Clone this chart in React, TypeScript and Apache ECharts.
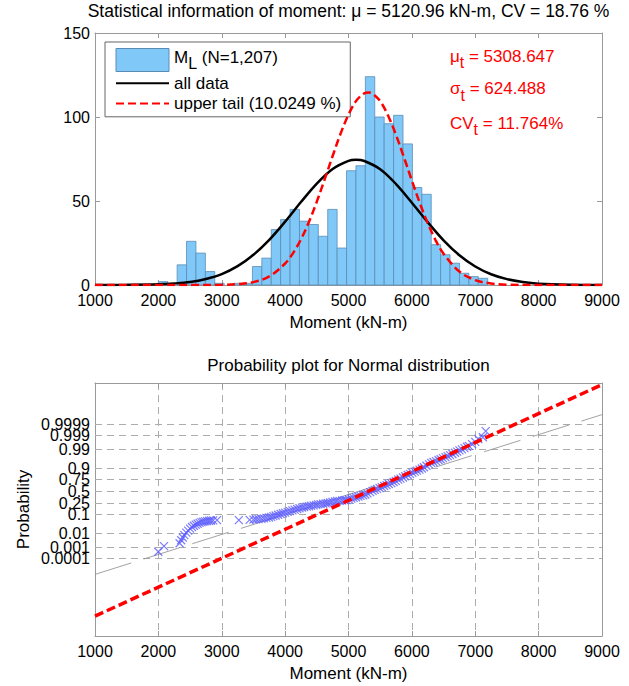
import React, { useEffect, useRef } from 'react';
import * as echarts from 'echarts';

const FONT = '"Liberation Sans", Arial, Helvetica, sans-serif';

// ---------- Histogram (top) ----------
const binEdges = [1999, 2147.5, 2296, 2444.5, 2593, 2741.5, 2890, 3038.5, 3187, 3335.5, 3484, 3632.5, 3781, 3929.5, 4078, 4226.5, 4375, 4523.5, 4672, 4820.5, 4969, 5117.5, 5266, 5414.5, 5563, 5711.5, 5860, 6008.5, 6157, 6305.5, 6454, 6602.5, 6751, 6899.5, 7048, 7196.5];
const binCounts = [2, 0, 12, 26, 19, 8, 1, 0, 1, 1, 11, 16, 33, 39, 45, 38, 36, 29, 45, 22, 68, 71, 124, 100, 96, 101, 84, 58, 54, 24, 18, 13, 7, 5, 4];

// fitted pdf curves, scaled to counts
const allDataCurve = [
  [1000, 0], [1500, 0.1], [2000, 0.4], [2250, 0.9], [2500, 1.8], [2750, 3.6], [3000, 6.5], [3250, 11.2],
  [3500, 18.0], [3750, 26.9], [4000, 37.7], [4250, 49.4], [4500, 60.4], [4750, 69.1], [5000, 73.9],
  [5120, 74.5], [5250, 73.8], [5500, 68.9], [5750, 60.1], [6000, 49.0], [6250, 37.4], [6500, 26.6],
  [6750, 17.7], [7000, 11.0], [7250, 6.4], [7500, 3.5], [7750, 1.8], [8000, 0.8], [8500, 0.15], [9000, 0],
];
const upperTailCurve = [
  [1000, 0], [2500, 0], [3000, 0.1], [3250, 0.5], [3500, 1.7], [3750, 5.1], [4000, 12.8], [4125, 19.0],
  [4250, 27.2], [4375, 37.5], [4500, 49.6], [4625, 63.0], [4750, 76.8], [4875, 90.1], [5000, 101.4],
  [5125, 109.8], [5250, 114.1], [5310, 114.6], [5375, 114.0], [5500, 109.4], [5625, 100.8], [5750, 89.3],
  [5875, 76.0], [6000, 62.1], [6125, 48.8], [6250, 36.8], [6375, 26.6], [6500, 18.6], [6750, 8.0],
  [7000, 2.9], [7250, 0.9], [7500, 0.2], [8000, 0], [9000, 0],
];

// ---------- Probability plot (bottom) ----------
const probTicks = [0.0001, 0.001, 0.01, 0.1, 0.25, 0.5, 0.75, 0.9, 0.99, 0.999, 0.9999];
const probTickLabels = ['0.0001', '0.001', '0.01', '0.1', '0.25', '0.5', '0.75', '0.9', '0.99', '0.999', '0.9999'];

// [moment, normal score]
const probPlotScores = [
  [1999, -3.34], [2089, -3.03],
  [2335, -2.87], [2360, -2.70], [2385, -2.55], [2410, -2.42], [2440, -2.28],
  [2470, -2.17], [2500, -2.06], [2530, -1.97], [2560, -1.90], [2590, -1.84],
  [2620, -1.79], [2650, -1.74], [2680, -1.70], [2710, -1.68], [2740, -1.66],
  [2770, -1.64], [2800, -1.62], [2830, -1.61], [2865, -1.60], [2925, -1.59],
  [3270, -1.585], [3440, -1.57],
  [3500, -1.56], [3540, -1.54], [3580, -1.53], [3625, -1.51],
  [3665, -1.49], [3705, -1.46], [3745, -1.44], [3780, -1.41],
  [3815, -1.37], [3850, -1.33], [3890, -1.29], [3929, -1.25],
  [3965, -1.21], [4000, -1.17], [4040, -1.13], [4078, -1.09],
  [4115, -1.05], [4150, -1.01], [4190, -0.97], [4226, -0.93],
  [4265, -0.90], [4300, -0.87], [4340, -0.84], [4375, -0.82],
  [4410, -0.79], [4450, -0.77], [4490, -0.74], [4523, -0.72],
  [4560, -0.70], [4600, -0.68], [4640, -0.66], [4672, -0.64],
  [4710, -0.61], [4745, -0.58], [4785, -0.56], [4820, -0.53],
  [4860, -0.52], [4900, -0.50], [4940, -0.49], [4969, -0.48],
  [5005, -0.44], [5045, -0.40], [5080, -0.36], [5117, -0.32],
  [5155, -0.28], [5190, -0.25], [5230, -0.21], [5266, -0.17],
  [5300, -0.11], [5340, -0.04], [5380, 0.03], [5414, 0.09],
  [5450, 0.14], [5490, 0.19], [5525, 0.24], [5563, 0.30],
  [5600, 0.35], [5635, 0.41], [5675, 0.46], [5711, 0.52],
  [5745, 0.58], [5785, 0.65], [5820, 0.71], [5860, 0.77],
  [5895, 0.84], [5935, 0.91], [5970, 0.97], [6008, 1.04],
  [6045, 1.10], [6080, 1.15], [6120, 1.21], [6157, 1.27],
  [6190, 1.34], [6230, 1.42], [6270, 1.50], [6305, 1.58],
  [6340, 1.63], [6380, 1.68], [6420, 1.74], [6454, 1.78],
  [6490, 1.84], [6530, 1.90], [6565, 1.95], [6602, 2.01],
  [6640, 2.07], [6680, 2.14], [6715, 2.20], [6751, 2.27],
  [6790, 2.33], [6830, 2.40], [6870, 2.47], [6899, 2.52],
  [6950, 2.62], [7000, 2.74], [7048, 2.90],
  [7120, 3.00], [7165, 3.34],
];
const allDataRefLine = [[1000, -4.59], [9000, 4.25]];
const upperTailFitLine = [[1000, -6.90], [9000, 5.91]];

// inverse standard normal CDF (probability axis transform)
function norminv(p: number): number {
  const a = [-3.969683028665376e1, 2.209460984245205e2, -2.759285104469687e2, 1.38357751867269e2, -3.066479806614716e1, 2.506628277459239];
  const b = [-5.447609879822406e1, 1.615858368580409e2, -1.556989798598866e2, 6.680131188771972e1, -1.328068155288572e1];
  const c = [-7.784894002430293e-3, -3.223964580411365e-1, -2.400758277161838, -2.549732539343734, 4.374664141464968, 2.938163982698783];
  const d = [7.784695709041462e-3, 3.224671290700398e-1, 2.445134137142996, 3.754408661907416];
  const pl = 0.02425;
  if (p < pl) {
    const q = Math.sqrt(-2 * Math.log(p));
    return (((((c[0] * q + c[1]) * q + c[2]) * q + c[3]) * q + c[4]) * q + c[5]) / ((((d[0] * q + d[1]) * q + d[2]) * q + d[3]) * q + 1);
  }
  if (p <= 1 - pl) {
    const q = p - 0.5;
    const r = q * q;
    return ((((((a[0] * r + a[1]) * r + a[2]) * r + a[3]) * r + a[4]) * r + a[5]) * q) / (((((b[0] * r + b[1]) * r + b[2]) * r + b[3]) * r + b[4]) * r + 1);
  }
  const q = Math.sqrt(-2 * Math.log(1 - p));
  return -(((((c[0] * q + c[1]) * q + c[2]) * q + c[3]) * q + c[4]) * q + c[5]) / ((((d[0] * q + d[1]) * q + d[2]) * q + d[3]) * q + 1);
}

const AXIS_GREY = '#9a9a9a';
const GRID_GREY = '#acacac';
const BAR_FILL = '#80c8f8';
const BAR_EDGE = '#5a8db5';

function buildOption() {
  const histData = binCounts.map((n, i) => [binEdges[i], binEdges[i + 1], n]);

  const tickLabel = { fontSize: 16, color: '#000', fontFamily: FONT };
  const axisLineStyle = { lineStyle: { color: AXIS_GREY, width: 1 } };

  const mainX = (gridIndex: number, extra: any = {}) => ({
    type: 'value', gridIndex, min: 1000, max: 9000, interval: 1000,
    axisLine: { show: true, onZero: false, ...axisLineStyle },
    axisTick: { show: true, inside: true, length: 5, lineStyle: { color: AXIS_GREY } },
    axisLabel: { ...tickLabel, margin: 7, showMinLabel: true, showMaxLabel: true, formatter: (v: number) => String(v) },
    splitLine: { show: false },
    name: 'Moment (kN-m)', nameLocation: 'middle', nameGap: 29,
    nameTextStyle: { fontSize: 17, color: '#000', fontFamily: FONT },
    ...extra,
  });
  const topX = (gridIndex: number) => ({
    type: 'value', gridIndex, position: 'top', min: 1000, max: 9000, interval: 1000,
    axisLine: { show: true, onZero: false, ...axisLineStyle },
    axisTick: { show: true, inside: true, length: 5, lineStyle: { color: AXIS_GREY } },
    axisLabel: { show: false }, splitLine: { show: false },
  });

  const rich = {
    m: { fontSize: 17, fill: '#ff0000', fontFamily: FONT, verticalAlign: 'top' },
    s: { fontSize: 16, fill: '#ff0000', fontFamily: FONT, verticalAlign: 'top', padding: [7, 0, 0, 0] },
  };
  const annot = (text: string, y: number) => ({
    type: 'text', x: 450, y,
    style: { text, rich, font: `17px ${FONT}`, fill: '#ff0000', verticalAlign: 'top' },
    silent: true,
  });

  return {
    animation: false,
    textStyle: { fontFamily: FONT },
    title: [
      {
        text: 'Statistical information of moment: \u03bc = 5120.96 kN-m, CV = 18.76 %',
        left: 348.5, top: 2, textAlign: 'center', padding: 0,
        textStyle: { fontSize: 17.5, fontWeight: 'normal', color: '#000', fontFamily: FONT },
      },
      {
        text: 'Probability plot for Normal distribution',
        left: 348.5, top: 357, textAlign: 'center', padding: 0,
        textStyle: { fontSize: 17, fontWeight: 'normal', color: '#000', fontFamily: FONT },
      },
    ],
    legend: {
      orient: 'vertical', left: 105, top: 42,
      padding: [6, 9, 4, 10],
      itemWidth: 53, itemHeight: 23, itemGap: 2,
      backgroundColor: '#fff', borderColor: '#666', borderWidth: 1,
      selectedMode: false,
      data: [
        { name: 'ML', icon: 'rect', itemStyle: { color: BAR_FILL, borderColor: BAR_EDGE, borderWidth: 1 } },
        { name: 'all data', itemStyle: { opacity: 0, color: 'transparent', borderWidth: 0 } },
        { name: 'upper tail (10.0249 %)', itemStyle: { opacity: 0, color: 'transparent', borderWidth: 0 } },
      ],
      formatter: (name: string) => (name === 'ML' ? '{m|M}{s|L}{m| (N=1,207)}' : name),
      textStyle: {
        fontSize: 17, color: '#000', fontFamily: FONT,
        rich: {
          m: { fontSize: 17, color: '#000', fontFamily: FONT, lineHeight: 23, verticalAlign: 'top' },
          s: { fontSize: 16, color: '#000', fontFamily: FONT, lineHeight: 13, verticalAlign: 'bottom' },
        },
      },
    },
    grid: [
      { left: 95, top: 33, width: 507, height: 252, containLabel: false, outerBoundsMode: 'none' },
      { left: 95, top: 383, width: 507, height: 253, containLabel: false, outerBoundsMode: 'none' },
    ],
    xAxis: [
      mainX(0),
      topX(0),
      mainX(1, { splitLine: { show: true, lineStyle: { type: [7, 5], color: GRID_GREY, width: 1 } } }),
      topX(1),
    ],
    yAxis: [
      {
        type: 'value', gridIndex: 0, min: 0, max: 150, interval: 50,
        axisLine: { show: true, onZero: false, ...axisLineStyle },
        axisTick: { show: true, inside: true, length: 5, lineStyle: { color: AXIS_GREY } },
        axisLabel: { ...tickLabel, margin: 5, showMinLabel: true, showMaxLabel: true },
        splitLine: { show: false },
      },
      {
        type: 'value', gridIndex: 0, position: 'right', min: 0, max: 150, interval: 50,
        axisLine: { show: true, onZero: false, ...axisLineStyle },
        axisTick: { show: true, inside: true, length: 5, lineStyle: { color: AXIS_GREY } },
        axisLabel: { show: false }, splitLine: { show: false },
      },
      {
        type: 'value', gridIndex: 1, min: -8, max: 6,
        axisLine: { show: true, onZero: false, ...axisLineStyle },
        axisTick: { show: false }, axisLabel: { show: false }, splitLine: { show: false },
        name: 'Probability', nameLocation: 'middle', nameGap: 63,
        nameTextStyle: { fontSize: 17, color: '#000', fontFamily: FONT },
      },
      {
        type: 'value', gridIndex: 1, position: 'right', min: -8, max: 6,
        axisLine: { show: true, onZero: false, ...axisLineStyle },
        axisTick: { show: false }, axisLabel: { show: false }, splitLine: { show: false },
      },
    ],
    graphic: [
      annot('{m|\u03bc}{s|t}{m| = 5308.647}', 47.5),
      annot('{m|\u03c3}{s|t}{m| = 624.488}', 80),
      annot('{m|CV}{s|t}{m| = 11.764%}', 114.5),
    ],
    series: [
      {
        name: 'ML', type: 'custom', xAxisIndex: 0, yAxisIndex: 0,
        data: histData,
        encode: { x: [0, 1], y: 2 },
        itemStyle: { color: BAR_FILL },
        renderItem: (params: any, api: any) => {
          const x0 = api.value(0), x1 = api.value(1), h = api.value(2);
          if (!h) return null;
          const p0 = api.coord([x0, h]);
          const p1 = api.coord([x1, 0]);
          return {
            type: 'rect',
            shape: { x: p0[0], y: p0[1], width: p1[0] - p0[0], height: p1[1] - p0[1] },
            style: { fill: BAR_FILL, stroke: BAR_EDGE, lineWidth: 0.8 },
          };
        },
        z: 1,
      },
      {
        name: 'all data', type: 'line', xAxisIndex: 0, yAxisIndex: 0,
        data: allDataCurve, showSymbol: false, symbol: 'none', smooth: 0.35,
        lineStyle: { color: '#000', width: 2.5 }, itemStyle: { color: '#000' }, z: 3,
      },
      {
        name: 'upper tail (10.0249 %)', type: 'line', xAxisIndex: 0, yAxisIndex: 0,
        data: upperTailCurve, showSymbol: false, symbol: 'none', smooth: 0.35,
        lineStyle: { color: '#ff0000', width: 2.5, type: [8, 4] }, itemStyle: { color: '#ff0000' }, z: 4,
      },
      {
        name: 'refAll', type: 'line', xAxisIndex: 2, yAxisIndex: 2,
        data: allDataRefLine, symbol: 'none', silent: true,
        lineStyle: { color: '#8a8a8a', width: 0.8, type: [38, 13] }, z: 2,
        markLine: {
          silent: true, symbol: ['none', 'none'], z: 1,
          lineStyle: { type: [7, 5], color: GRID_GREY, width: 1 },
          label: { show: true, position: 'start', distance: 5, fontSize: 16, color: '#000', fontFamily: FONT },
          data: probTicks.map((p, i) => ({
            yAxis: norminv(p),
            label: { formatter: probTickLabels[i] },
          })),
        },
      },
      {
        name: 'samples', type: 'scatter', xAxisIndex: 2, yAxisIndex: 2,
        data: probPlotScores,
        symbol: 'path://M0,0L10,10M10,0L0,10', symbolSize: 8,
        itemStyle: { color: 'none', borderColor: '#5a5aff', borderWidth: 1.2, opacity: 0.8 },
        z: 3, silent: true,
      },
      {
        name: 'tailFit', type: 'line', xAxisIndex: 2, yAxisIndex: 2,
        data: upperTailFitLine, symbol: 'none', silent: true,
        lineStyle: { color: '#ff0000', width: 3.5, type: [9, 4] }, z: 4,
      },
    ],
  };
}

export default function App() {
  const ref = useRef<HTMLDivElement>(null);
  useEffect(() => {
    if (!ref.current) return;
    const chart = echarts.init(ref.current, null, { renderer: 'svg' });
    chart.setOption(buildOption() as any);
    return () => chart.dispose();
  }, []);
  return (
    <div
      ref={ref}
      style={{ position: 'absolute', left: 0, top: 0, width: 629, height: 686, background: '#fff' }}
    />
  );
}
